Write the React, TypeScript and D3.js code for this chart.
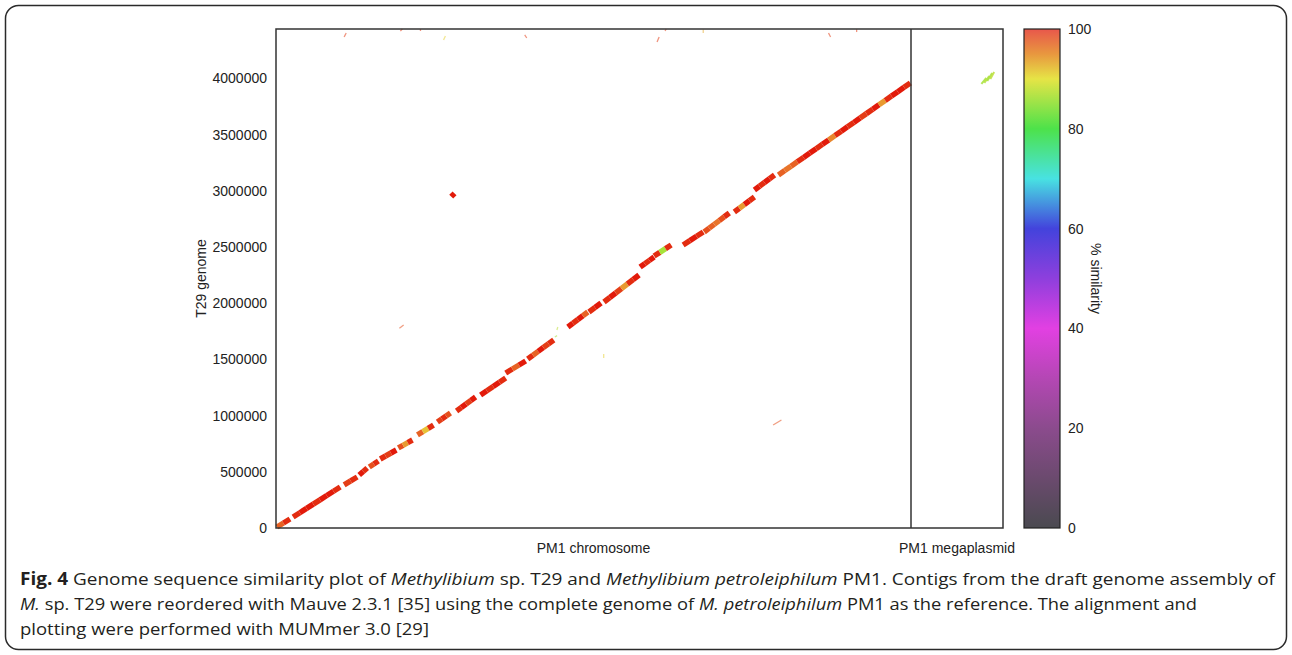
import React, { useEffect, useRef } from 'react';
import * as d3 from 'd3';

// genome lengths (bp)
const CHROMOSOME_LEN = 4044195;
const MEGAPLASMID_LEN = 599444;
const Y_MAX = 4440000;

const referenceParts = ['PM1 chromosome', 'PM1 megaplasmid'];
const yTitle = 'T29 genome';
const colorTitle = '% similarity';
const yTicks = [0, 500000, 1000000, 1500000, 2000000, 2500000, 3000000, 3500000, 4000000];
const similarityTicks = [0, 20, 40, 60, 80, 100];

// colour bar stops [% similarity, colour]
const barStops: [number, string][] = [
  [0, '#4a4a50'], [10, '#6b4a6e'], [20, '#8b4b8d'], [30, '#b447b4'], [40, '#e240e2'],
  [50, '#8e3fdd'], [60, '#4343dc'], [70, '#48e2e2'], [80, '#4de24a'], [90, '#e6e446'],
  [95, '#e8973f'], [100, '#e8574b'],
];

// thick alignment runs: [x start, y start, x end, y end] (bp)
const diagonalRuns = [
  [6000, 9000, 89000, 80000],
  [109000, 98000, 409000, 365000],
  [434000, 383000, 517000, 454000],
  [530000, 472000, 581000, 534000],
  [594000, 543000, 652000, 596000],
  [664000, 614000, 766000, 694000],
  [779000, 712000, 869000, 783000],
  [901000, 828000, 1003000, 916000],
  [1028000, 943000, 1111000, 1023000],
  [1150000, 1041000, 1271000, 1166000],
  [1303000, 1183000, 1463000, 1335000],
  [1463000, 1379000, 1590000, 1486000],
  [1603000, 1504000, 1769000, 1673000],
  [1859000, 1788000, 1986000, 1922000],
  [1993000, 1922000, 2070000, 2002000],
  [2089000, 2011000, 2312000, 2251000],
  [2319000, 2322000, 2408000, 2411000],
  [2408000, 2420000, 2517000, 2518000],
  [2593000, 2518000, 2721000, 2634000],
  [2727000, 2634000, 2887000, 2803000],
  [2919000, 2812000, 3047000, 2945000],
  [3047000, 3008000, 3175000, 3141000],
  [3200000, 3141000, 4040000, 3960000],
  [1116000, 2948000, 1137000, 2978000],
];

// % similarity of the blocks along each run
const diagonalSims = [
  [96, 99],
  [99, 100, 100, 99, 100, 100, 99],
  [98, 99],
  [100, 99],
  [97, 99],
  [99, 98, 100],
  [97, 93, 99],
  [96, 91, 99],
  [98, 99, 97],
  [99, 100, 98, 100],
  [100, 99, 100, 99],
  [99, 96, 100],
  [99, 96, 100, 98, 99],
  [100, 99, 100, 96],
  [99, 100],
  [99, 100, 98, 93, 99, 100],
  [100, 99, 100],
  [99, 84, 99],
  [99, 100, 99],
  [97, 96, 95, 97, 99],
  [99, 93, 100, 99],
  [100, 99, 100, 99],
  [96, 95, 96, 99, 100, 100, 99, 100, 94, 99, 100, 99, 100, 98, 99, 100, 93, 99, 100, 100, 99],
  [100],
];

// short hits off the diagonal: [x1, y1, x2, y2, % similarity]
const sideHits = [
  [786000, 1777000, 813000, 1806000, 97],
  [1776000, 1700000, 1790000, 1712000, 84],
  [1789000, 1762000, 1795000, 1788000, 86],
  [3166000, 916000, 3219000, 961000, 97],
  [2087000, 1513000, 2087000, 1548000, 90],
  [434000, 4369000, 447000, 4405000, 98],
  [792000, 4422000, 805000, 4440000, 98],
  [920000, 4422000, 920000, 4440000, 98],
  [1067000, 4342000, 1079000, 4378000, 90],
  [1584000, 4387000, 1597000, 4360000, 98],
  [2427000, 4324000, 2440000, 4369000, 98],
  [2478000, 4422000, 2485000, 4440000, 98],
  [2721000, 4404000, 2721000, 4436000, 92],
  [3519000, 4405000, 3532000, 4369000, 98],
  [3698000, 4413000, 3698000, 4438000, 98],
];

// megaplasmid hits
const plasmidHits = [
  [4503000, 3951000, 4535000, 4004000, 84],
  [4522000, 3960000, 4554000, 4022000, 85],
  [4541000, 3977000, 4573000, 4049000, 84],
  [4561000, 3995000, 4586000, 4057000, 86],
];

// caption: [text, style]
const captionLines: [string, string][][] = [
  [['Fig. 4', 'b'], [' Genome sequence similarity plot of ', ''], ['Methylibium', 'i'], [' sp. T29 and ', ''],
    ['Methylibium petroleiphilum', 'i'], [' PM1. Contigs from the draft genome assembly of', '']],
  [['M.', 'i'], [' sp. T29 were reordered with Mauve 2.3.1 [35] using the complete genome of ', ''],
    ['M. petroleiphilum', 'i'], [' PM1 as the reference. The alignment and', '']],
  [['plotting were performed with MUMmer 3.0 [29]', '']],
];
const captionWidths = [1255, 1177, 409];

const FONT = "'Liberation Sans', Arial, Helvetica, sans-serif";

const App = () => {
  const svgRef = useRef<SVGSVGElement>(null);

  useEffect(() => {
    const svg = d3.select(svgRef.current);
    svg.selectAll('*').remove();

    const left = 276, divider = 911, right = 1003, top = 29, bottom = 528;
    const barLeft = 1024, barWidth = 36;

    // chromosome and megaplasmid laid end to end
    const x = d3.scaleLinear()
      .domain([0, CHROMOSOME_LEN, CHROMOSOME_LEN + MEGAPLASMID_LEN])
      .range([left, divider, right]);
    const y = d3.scaleLinear().domain([0, Y_MAX]).range([bottom, top]);
    const simY = d3.scaleLinear().domain([0, 100]).range([bottom, top]);
    const markColor = d3.scaleLinear<string>()
      .domain([80, 85, 90, 95, 100])
      .range(['#6fe03c', '#b4e23a', '#e8d43a', '#e8742a', '#e21a0a'])
      .clamp(true);

    // outer rounded box
    svg.append('rect')
      .attr('x', 5.5).attr('y', 5.5)
      .attr('width', 1281).attr('height', 644)
      .attr('rx', 13)
      .attr('fill', '#fff')
      .attr('stroke', '#2a2a2a')
      .attr('stroke-width', 1.5);

    // alignment blocks
    const marks = svg.append('g');
    diagonalRuns.forEach((run, i) => {
      const sims = diagonalSims[i];
      const n = sims.length;
      const [x1, y1, x2, y2] = run;
      sims.forEach((s, j) => {
        const t0 = j / n, t1 = (j + 1) / n;
        marks.append('line')
          .attr('x1', x(x1 + (x2 - x1) * t0)).attr('y1', y(y1 + (y2 - y1) * t0))
          .attr('x2', x(x1 + (x2 - x1) * t1)).attr('y2', y(y1 + (y2 - y1) * t1))
          .attr('stroke', markColor(s))
          .attr('stroke-width', 5.5)
          .attr('stroke-linecap', 'butt');
      });
    });

    marks.selectAll('line.side')
      .data(sideHits)
      .join('line')
      .attr('class', 'side')
      .attr('x1', d => x(d[0])).attr('y1', d => y(d[1]))
      .attr('x2', d => x(d[2])).attr('y2', d => y(d[3]))
      .attr('stroke', d => markColor(d[4]))
      .attr('stroke-width', 1.3)
      .attr('opacity', 0.55);

    marks.selectAll('line.plasmid')
      .data(plasmidHits)
      .join('line')
      .attr('class', 'plasmid')
      .attr('x1', d => x(d[0])).attr('y1', d => y(d[1]))
      .attr('x2', d => x(d[2])).attr('y2', d => y(d[3]))
      .attr('stroke', d => markColor(d[4]))
      .attr('stroke-width', 2)
      .attr('opacity', 0.85);

    // frame and chromosome / megaplasmid divider
    svg.append('rect')
      .attr('x', left).attr('y', top)
      .attr('width', right - left).attr('height', bottom - top)
      .attr('fill', 'none')
      .attr('stroke', '#333')
      .attr('stroke-width', 1.5);
    svg.append('line')
      .attr('x1', x(CHROMOSOME_LEN)).attr('x2', x(CHROMOSOME_LEN))
      .attr('y1', top).attr('y2', bottom)
      .attr('stroke', '#333')
      .attr('stroke-width', 1.5);

    // y axis
    const yAxis = svg.append('g')
      .attr('transform', `translate(${left},0)`)
      .call(d3.axisLeft(y).tickValues(yTicks).tickSize(0).tickPadding(9).tickFormat(d3.format('d')));
    yAxis.select('.domain').remove();
    yAxis.attr('font-size', 14).attr('font-family', FONT);
    yAxis.selectAll('text').attr('fill', '#222');

    svg.append('text')
      .attr('transform', `translate(206,${(top + bottom) / 2}) rotate(-90)`)
      .attr('text-anchor', 'middle')
      .attr('font-family', FONT)
      .attr('font-size', 14)
      .attr('fill', '#222')
      .text(yTitle);

    // x labels, centred on each replicon
    const centres = [CHROMOSOME_LEN / 2, CHROMOSOME_LEN + MEGAPLASMID_LEN / 2];
    referenceParts.forEach((label, i) => {
      svg.append('text')
        .attr('x', x(centres[i]))
        .attr('y', 553)
        .attr('text-anchor', 'middle')
        .attr('font-family', FONT)
        .attr('font-size', 14)
        .attr('fill', '#222')
        .text(label);
    });

    // colour bar
    const grad = svg.append('defs').append('linearGradient')
      .attr('id', 'simGrad')
      .attr('x1', 0).attr('y1', 1).attr('x2', 0).attr('y2', 0);
    grad.selectAll('stop')
      .data(barStops)
      .join('stop')
      .attr('offset', d => d[0] / 100)
      .attr('stop-color', d => d[1]);

    svg.append('rect')
      .attr('x', barLeft).attr('y', top)
      .attr('width', barWidth).attr('height', bottom - top)
      .attr('fill', 'url(#simGrad)')
      .attr('stroke', '#222')
      .attr('stroke-width', 1.2);

    const barAxis = svg.append('g')
      .attr('transform', `translate(${barLeft + barWidth},0)`)
      .call(d3.axisRight(simY).tickValues(similarityTicks).tickSize(0).tickPadding(8));
    barAxis.select('.domain').remove();
    barAxis.attr('font-size', 14).attr('font-family', FONT);
    barAxis.selectAll('text').attr('fill', '#222');

    svg.append('text')
      .attr('transform', `translate(1091,${(top + bottom) / 2}) rotate(90)`)
      .attr('text-anchor', 'middle')
      .attr('font-family', FONT)
      .attr('font-size', 14)
      .attr('fill', '#222')
      .text(colorTitle);

    // caption
    captionLines.forEach((parts, i) => {
      const t = svg.append('text')
        .attr('x', 20)
        .attr('y', 585 + i * 25)
        .attr('font-family', "'Open Sans', sans-serif")
        .attr('font-size', 17)
        .attr('fill', '#231f20')
        .attr('textLength', captionWidths[i])
        .attr('lengthAdjust', 'spacingAndGlyphs')
        .attr('xml:space', 'preserve');
      parts.forEach(([txt, style]) => {
        t.append('tspan')
          .attr('font-weight', style === 'b' ? 700 : 400)
          .attr('font-style', style === 'i' ? 'italic' : 'normal')
          .text(txt);
      });
    });
  }, []);

  return (
    <svg
      ref={svgRef}
      width={1292}
      height={655}
      style={{ position: 'absolute', left: 0, top: 0, background: '#fff' }}
    />
  );
};

export default App;
